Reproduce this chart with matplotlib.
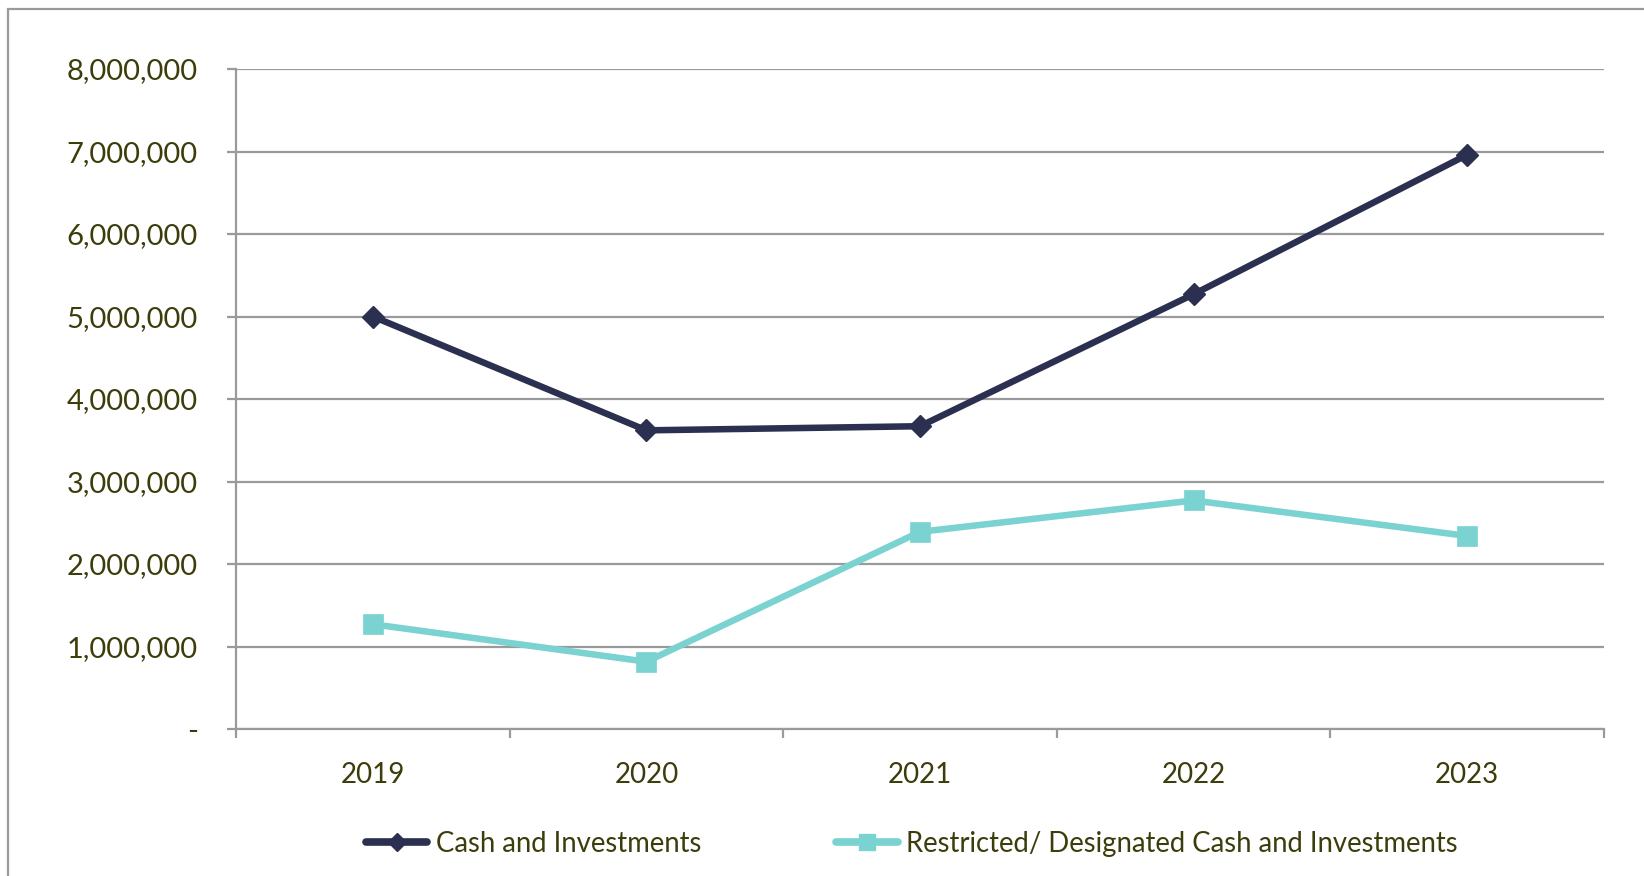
import matplotlib
matplotlib.use("Agg")
import matplotlib.pyplot as plt
from matplotlib.lines import Line2D
from matplotlib.patches import Rectangle

years = ["2019", "2020", "2021", "2022", "2023"]
cash_investments = [5000000, 3620000, 3670000, 5270000, 6960000]
restricted_designated = [1270000, 816000, 2390000, 2770000, 2340000]
series_labels = ["Cash and Investments", "Restricted/ Designated Cash and Investments"]
y_ticks = [0, 1000000, 2000000, 3000000, 4000000, 5000000, 6000000, 7000000, 8000000]

plt.rcParams['font.family'] = ['Lato', 'DejaVu Sans']
TXT = "#3d3d0c"
GRID = "#9a9a9a"
C1 = "#2b3050"
C2 = "#7ad3d1"

W, H = 1644, 876
fig = plt.figure(figsize=(W / 100, H / 100), dpi=100)
fig.patch.set_facecolor("white")

# outer chart border (left and top visible)
fig.add_artist(Rectangle((8 / W, -0.1), 1.2, 1 - 9 / H + 0.1, transform=fig.transFigure,
                         fill=False, edgecolor=GRID, linewidth=1.6))

ax = fig.add_axes([236 / W, 1 - 729 / H, (1604 - 236) / W, (729 - 69) / H])

x = [i + 0.5 for i in range(len(years))]
ax.plot(x, cash_investments, color=C1, linewidth=4.7, marker="D", markersize=11,
        markeredgewidth=1, markeredgecolor=C1, solid_capstyle="butt", zorder=3)
ax.plot(x, restricted_designated, color=C2, linewidth=4.7, marker="s", markersize=15,
        markeredgewidth=0.5, markeredgecolor=C2, solid_capstyle="butt", zorder=3)

ax.set_xlim(0, len(years))
ax.set_ylim(0, 8000000)
ax.set_yticks(y_ticks)
ax.set_yticklabels(["-" if v == 0 else f"{v:,.0f}" for v in y_ticks])
ax.set_xticks(range(len(years) + 1))
ax.set_xticklabels([])
ax.set_xticks(x, minor=True)
ax.set_xticklabels(years, minor=True)

ax.grid(axis="y", color=GRID, linewidth=1.6)
ax.set_axisbelow(True)
for s in ["top", "right"]:
    ax.spines[s].set_visible(False)
for s in ["left", "bottom"]:
    ax.spines[s].set_color(GRID)
    ax.spines[s].set_linewidth(1.6)

ax.tick_params(axis="y", which="major", length=6.5, width=1.6, color=GRID,
               labelsize=21, labelcolor=TXT, pad=21)
ax.tick_params(axis="x", which="major", length=6.5, width=1.6, color=GRID)
ax.tick_params(axis="x", which="minor", length=0, labelsize=20, labelcolor=TXT, pad=24)

handles = [
    Line2D([], [], color=C1, linewidth=5.5, solid_capstyle="round", marker="D",
           markersize=9, markeredgecolor=C1),
    Line2D([], [], color=C2, linewidth=5.5, solid_capstyle="round", marker="s",
           markersize=11, markeredgecolor=C2),
]
fig.legend(handles, series_labels, loc="center", bbox_to_anchor=(0.5545, 1 - 844 / H),
           ncol=2, frameon=False, fontsize=19.8, labelcolor=TXT, handlelength=2.25,
           handletextpad=0.3, columnspacing=4.9)

fig.savefig("out.png", dpi=100, facecolor="white")
